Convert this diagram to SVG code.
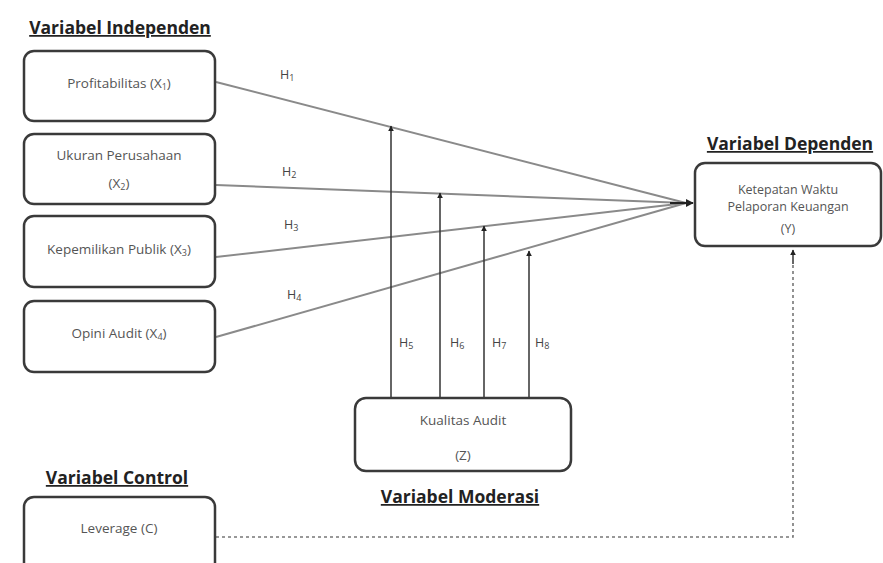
<svg xmlns="http://www.w3.org/2000/svg" width="883" height="563" viewBox="0 0 883 563">
<defs>
<style>
.box{fill:#fff;stroke:#3a3a3a;stroke-width:2.5}
.t{font-family:"Open Sans","Liberation Sans",sans-serif;font-size:13.5px;fill:#555;text-anchor:middle}
.ty{font-family:"Open Sans","Liberation Sans",sans-serif;font-size:12.5px;fill:#555;text-anchor:middle}
.h{font-family:"Open Sans","Liberation Sans",sans-serif;font-size:12.5px;fill:#444}
.hd{font-family:"Open Sans","Liberation Sans",sans-serif;font-size:17.5px;font-weight:bold;fill:#222;text-decoration:underline;text-anchor:middle}
.sub{font-size:9px}
.ln{stroke:#8a8a8a;stroke-width:2;fill:none}
.va{stroke:#333;stroke-width:1.5;fill:none;marker-end:url(#ah)}
.dash{stroke:#777;stroke-width:1.6;fill:none;stroke-dasharray:3 3}
</style>
<marker id="ah" viewBox="0 0 10 10" refX="9" refY="5" markerWidth="6" markerHeight="6" orient="auto" markerUnits="userSpaceOnUse">
<path d="M0,0 L10,5 L0,10 z" fill="#222"/>
</marker>
<marker id="ah2" viewBox="0 0 10 10" refX="9" refY="5" markerWidth="8" markerHeight="8" orient="auto" markerUnits="userSpaceOnUse">
<path d="M0,0 L10,5 L0,10 z" fill="#222"/>
</marker>
</defs>
<rect width="883" height="563" fill="#fff"/>

<g id="headers">
<text class="hd" x="120" y="34">Variabel Independen</text>
<text class="hd" x="790" y="150">Variabel Dependen</text>
<text class="hd" x="460" y="503">Variabel Moderasi</text>
<text class="hd" x="117" y="484">Variabel Control</text>
</g>

<g id="connectors">
<line class="ln" x1="216" y1="82" x2="686" y2="203"/>
<line class="ln" x1="216" y1="185" x2="686" y2="203"/>
<line class="ln" x1="216" y1="257" x2="686" y2="203"/>
<line class="ln" x1="216" y1="337" x2="686" y2="203"/>
<line x1="670" y1="203" x2="693" y2="203" stroke="#222" stroke-width="2" marker-end="url(#ah2)"/>
<line class="va" x1="391" y1="398" x2="391" y2="126"/>
<line class="va" x1="440" y1="398" x2="440" y2="193"/>
<line class="va" x1="484" y1="398" x2="484" y2="226"/>
<line class="va" x1="529" y1="398" x2="529" y2="251"/>
<polyline class="dash" points="216,537 793,537 793,262"/>
<line x1="793" y1="264" x2="793" y2="250" stroke="#333" stroke-width="1.5" marker-end="url(#ah)"/>
<text class="h" x="280" y="79">H<tspan class="sub" dy="2">1</tspan></text>
<text class="h" x="282" y="176">H<tspan class="sub" dy="2">2</tspan></text>
<text class="h" x="284" y="229">H<tspan class="sub" dy="2">3</tspan></text>
<text class="h" x="287" y="299">H<tspan class="sub" dy="2">4</tspan></text>
<text class="h" x="399" y="347">H<tspan class="sub" dy="2">5</tspan></text>
<text class="h" x="450" y="347">H<tspan class="sub" dy="2">6</tspan></text>
<text class="h" x="492" y="347">H<tspan class="sub" dy="2">7</tspan></text>
<text class="h" x="535" y="347">H<tspan class="sub" dy="2">8</tspan></text>
</g>

<g id="x1">
<rect class="box" x="24" y="51" width="191" height="70" rx="10"/>
<text class="t" x="119" y="88">Profitabilitas (X<tspan class="sub" dy="2">1</tspan><tspan dy="-2">)</tspan></text>
</g>
<g id="x2">
<rect class="box" x="24" y="134" width="191" height="70" rx="10"/>
<text class="t" x="119" y="160">Ukuran Perusahaan</text>
<text class="t" x="119" y="188">(X<tspan class="sub" dy="2">2</tspan><tspan dy="-2">)</tspan></text>
</g>
<g id="x3">
<rect class="box" x="24" y="216" width="191" height="71" rx="10"/>
<text class="t" x="119" y="254">Kepemilikan Publik (X<tspan class="sub" dy="2">3</tspan><tspan dy="-2">)</tspan></text>
</g>
<g id="x4">
<rect class="box" x="24" y="301" width="191" height="71" rx="10"/>
<text class="t" x="119" y="338">Opini Audit (X<tspan class="sub" dy="2">4</tspan><tspan dy="-2">)</tspan></text>
</g>
<g id="y">
<rect class="box" x="695" y="163" width="186" height="83" rx="10"/>
<text class="ty" x="788" y="194">Ketepatan Waktu</text>
<text class="ty" x="788" y="211">Pelaporan Keuangan</text>
<text class="ty" x="788" y="233">(Y)</text>
</g>
<g id="z">
<rect class="box" x="355" y="398" width="216" height="73" rx="11"/>
<text class="t" x="463" y="425">Kualitas Audit</text>
<text class="t" x="463" y="460">(Z)</text>
</g>
<g id="c">
<rect class="box" x="24" y="497" width="191" height="80" rx="10"/>
<text class="t" x="119" y="533">Leverage (C)</text>
</g>
</svg>
